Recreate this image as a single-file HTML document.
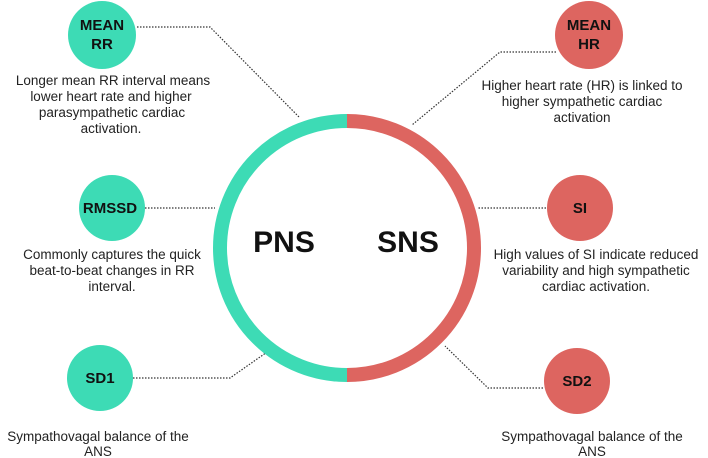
<!DOCTYPE html>
<html><head><style>
body{margin:0;background:#fff;width:708px;height:458px;overflow:hidden}
svg{display:block}
text{font-family:"Liberation Sans",sans-serif}
.d{font-size:13.5px;fill:#222;text-anchor:middle}
.n{font-size:15px;font-weight:bold;fill:#111;text-anchor:middle}
.l{stroke:#333;stroke-width:1.2;stroke-dasharray:1.5 1.5;fill:none}
</style></head><body>
<svg width="708" height="458" viewBox="0 0 708 458">
<path class="l" d="M137 27 H210 L300 118"/>
<path class="l" d="M145 208 H215"/>
<path class="l" d="M133 378 H230 L270 350"/>
<path class="l" d="M556 52 H500 L412 125"/>
<path class="l" d="M546 208 H478"/>
<path class="l" d="M543 388 H488 L445 346"/>
<path d="M347 121 A127 127 0 0 0 347 375" stroke="#3ddbb5" stroke-width="14" fill="none"/>
<path d="M347 121 A127 127 0 0 1 347 375" stroke="#dd6560" stroke-width="14" fill="none"/>
<text x="284" y="252" font-size="30" font-weight="bold" text-anchor="middle" fill="#111">PNS</text>
<text x="408" y="252" font-size="30" font-weight="bold" text-anchor="middle" fill="#111">SNS</text>
<circle cx="102" cy="35" r="34" fill="#3ddbb5"/>
<text class="n" x="102" y="30">MEAN</text><text class="n" x="102" y="49">RR</text>
<circle cx="112" cy="208" r="33" fill="#3ddbb5"/>
<text class="n" x="110" y="213">RMSSD</text>
<circle cx="100" cy="378" r="33" fill="#3ddbb5"/>
<text class="n" x="100" y="383">SD1</text>
<circle cx="589" cy="35" r="34" fill="#dd6560"/>
<text class="n" x="589" y="30">MEAN</text><text class="n" x="589" y="49">HR</text>
<circle cx="580" cy="208" r="33" fill="#dd6560"/>
<text class="n" x="580" y="213">SI</text>
<circle cx="577" cy="381" r="33" fill="#dd6560"/>
<text class="n" x="577" y="386">SD2</text>
<text class="d" x="113" y="85">Longer mean RR interval means</text>
<text class="d" x="111" y="101">lower heart rate and higher</text>
<text class="d" x="112" y="117">parasympathetic cardiac</text>
<text class="d" x="111" y="133">activation.</text>
<text class="d" x="112" y="259">Commonly captures the quick</text>
<text class="d" x="112" y="275">beat-to-beat changes in RR</text>
<text class="d" x="112" y="291">interval.</text>
<text class="d" x="98" y="441">Sympathovagal balance of the</text>
<text class="d" x="98" y="456">ANS</text>
<text class="d" x="582" y="90">Higher heart rate (HR) is linked to</text>
<text class="d" x="582" y="106">higher sympathetic cardiac</text>
<text class="d" x="582" y="122">activation</text>
<text class="d" x="596" y="259">High values of SI indicate reduced</text>
<text class="d" x="596" y="275">variability and high sympathetic</text>
<text class="d" x="596" y="291">cardiac activation.</text>
<text class="d" x="592" y="441">Sympathovagal balance of the</text>
<text class="d" x="592" y="456">ANS</text>
</svg>
</body></html>
